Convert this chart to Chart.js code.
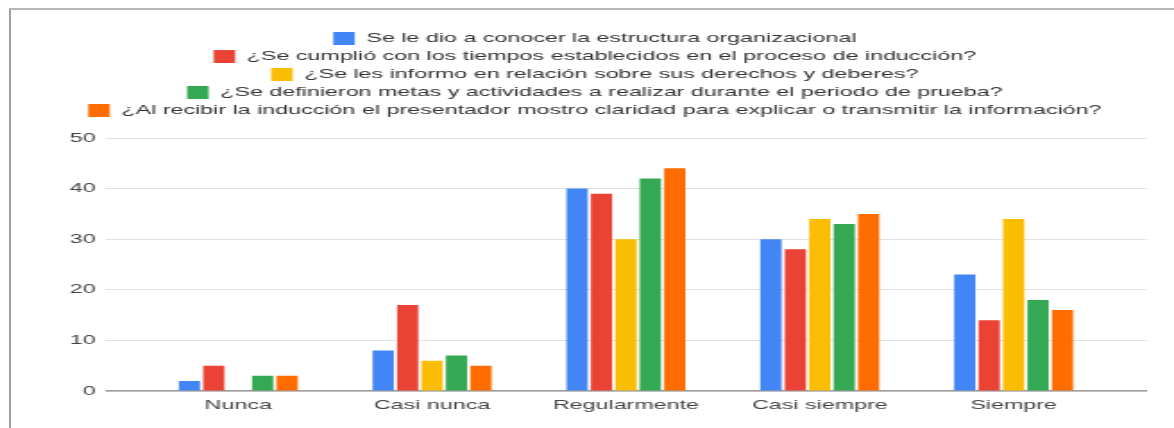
<!DOCTYPE html>
<html><head><meta charset="utf-8">
<script src="https://cdn.jsdelivr.net/npm/chart.js@4.4.1/dist/chart.umd.min.js"></script>
<style>
html,body{margin:0;padding:0;background:#fff;width:1174px;height:428px;overflow:hidden}
#frame{position:absolute;left:9px;top:8px;width:1165px;height:420px;border-top:2px solid #b8b8b8;border-left:2px solid #a0a0a0;box-sizing:border-box}
#wrap{position:absolute;left:0;top:0;width:656px;height:428px;transform:scaleX(1.7896);transform-origin:0 0}
</style></head><body>
<div id="frame"></div>
<div id="wrap"><canvas id="c"></canvas></div>
<script>
// ---- data ----
const categories = ['Nunca', 'Casi nunca', 'Regularmente', 'Casi siempre', 'Siempre'];
const seriesNames = [
  'Se le dio a conocer la estructura organizacional',
  '¿Se cumplió con los tiempos establecidos en el proceso de inducción?',
  '¿Se les informo en relación sobre sus derechos y deberes?',
  '¿Se definieron metas y actividades a realizar durante el periodo de prueba?',
  '¿Al recibir la inducción el presentador mostro claridad para explicar o transmitir la información?'
];
const estructura = [2, 8, 40, 30, 23];
const tiempos = [5, 17, 39, 28, 14];
const derechos = [0, 6, 30, 34, 34];
const metas = [3, 7, 42, 33, 18];
const claridad = [3, 5, 44, 35, 16];
const yTickValues = [0, 10, 20, 30, 40, 50];

// ---- styles ----
const colors = ['#4285F4', '#EA4335', '#FBBC04', '#34A853', '#FF6D01'];
const FONT = "'Liberation Sans', Arial, sans-serif";

const allSeries = [estructura, tiempos, derechos, metas, claridad];
const datasets = allSeries.map((vals, k) => ({
  label: seriesNames[k],
  data: vals.map((v, i) => ({x: i, y: v})),
  backgroundColor: colors[k],
  borderWidth: 0
}));

const legendFix = {
  id: 'legendFix',
  beforeInit(chart) {
    const orig = chart.legend.fit;
    chart.legend.fit = function () { orig.call(this); this.height = 111; };
  },
  afterLayout(chart) {
    chart.legend.left -= 4.5;
    chart.legend.right -= 4.5;
  }
};

new Chart(document.getElementById('c'), {
  type: 'bar',
  data: {datasets},
  plugins: [legendFix],
  options: {
    responsive: true,
    maintainAspectRatio: false,
    animation: false,
    layout: {padding: {left: 33, right: 15.2, top: 27, bottom: 7.4}},
    datasets: {bar: {categoryPercentage: 0.63, barPercentage: 0.87}},
    plugins: {
      legend: {
        position: 'top',
        labels: {boxWidth: 12, boxHeight: 13, padding: 5, color: '#333', font: {family: FONT, size: 13}}
      },
      tooltip: {enabled: false}
    },
    scales: {
      x: {
        type: 'linear', min: -0.68, max: 4.687, bounds: 'data', offset: false,
        grid: {display: false, drawTicks: false},
        border: {display: true, color: '#9e9e9e', width: 1.6},
        afterBuildTicks: (s) => { s.ticks = categories.map((c, i) => ({value: i})); },
        ticks: {
          callback: (v) => categories[v] ?? '',
          color: '#444', font: {family: FONT, size: 13}, padding: 7,
          autoSkip: false, maxRotation: 0
        }
      },
      y: {
        min: 0, max: 50,
        afterBuildTicks: (s) => { s.ticks = yTickValues.map(v => ({value: v})); },
        ticks: {color: '#444', font: {family: FONT, size: 13}, padding: 6},
        grid: {color: '#e2e2e2', lineWidth: 1, drawTicks: false},
        border: {display: false}
      }
    }
  }
});
</script>
</body></html>
